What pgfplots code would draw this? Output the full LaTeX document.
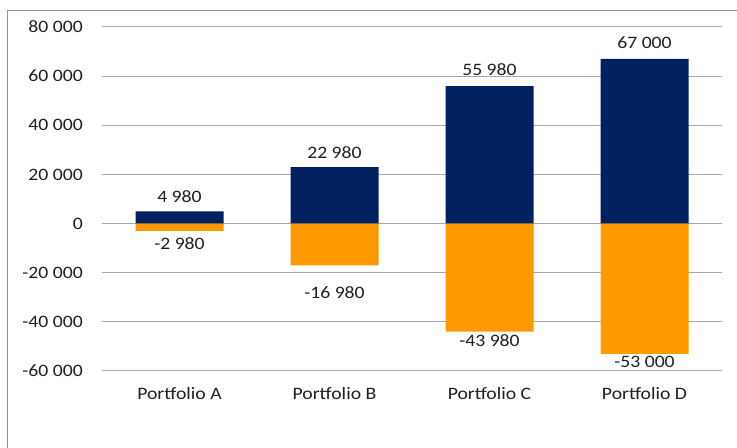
\documentclass[border=0pt]{standalone}
\usepackage{pgfplots}
\pgfplotsset{compat=1.18}
\usepackage{fontspec}
\setmainfont{Carlito}[FakeStretch=1.13]
\definecolor{navy}{HTML}{002060}
\definecolor{orng}{HTML}{FF9900}
\definecolor{txt}{HTML}{1F1F1F}
\definecolor{grd}{HTML}{A8A8A8}
\begin{document}
\fontsize{17.5pt}{20pt}\selectfont
\begin{tikzpicture}[x=1bp,y=1bp]
\useasboundingbox (0,0) rectangle (737,448);
\draw[color=gray!85, line width=1.5bp] (7.5,-5) -- (7.5,437.5) -- (745,437.5);
\begin{axis}[
  at={(102bp,77bp)}, anchor=south west,
  scale only axis, width=620bp, height=344bp,
  xmin=-0.5, xmax=3.5, ymin=-60000, ymax=80000,
  ytick={-60000,-40000,-20000,0,20000,40000,60000,80000},
  xtick={0,1,2,3},
  xticklabels={Portfolio A,Portfolio B,Portfolio C,Portfolio D},
  axis line style={draw=none},
  major tick style={draw=none},
  ymajorgrids, grid style={grd, line width=1bp},
  /pgf/number format/assume math mode=true,
  /pgf/number format/.cd, 1000 sep={\ }, /pgfplots/.cd,
  scaled y ticks=false,
  yticklabel style={font=\fontsize{17.5pt}{20pt}\selectfont, text=txt, inner sep=0pt, xshift=-19bp},
  xticklabel style={font=\fontsize{17.5pt}{20pt}\selectfont, text=txt, inner sep=0pt, yshift=-12bp},
  ybar, bar width=88bp, bar shift=0pt,
  clip=false,
]
\addplot[fill=navy, draw=none] coordinates {(0,4980) (1,22980) (2,55980) (3,67000)};
\addplot[fill=orng, draw=none] coordinates {(0,-2980) (1,-16980) (2,-43980) (3,-53000)};
\begin{scope}[every node/.style={text=txt, font=\fontsize{17.5pt}{20pt}\selectfont, inner sep=0pt}]
\node at (axis cs:0,10830) {4 980};
\node at (axis cs:0,-8300) {-2 980};
\node at (axis cs:1,28730) {22 980};
\node at (axis cs:1,-28240) {-16 980};
\node at (axis cs:2,62500) {55 980};
\node at (axis cs:2,-47770) {-43 980};
\node at (axis cs:3,73500) {67 000};
\node at (axis cs:3,-56300) {-53 000};
\end{scope}
\end{axis}
\end{tikzpicture}
\end{document}
